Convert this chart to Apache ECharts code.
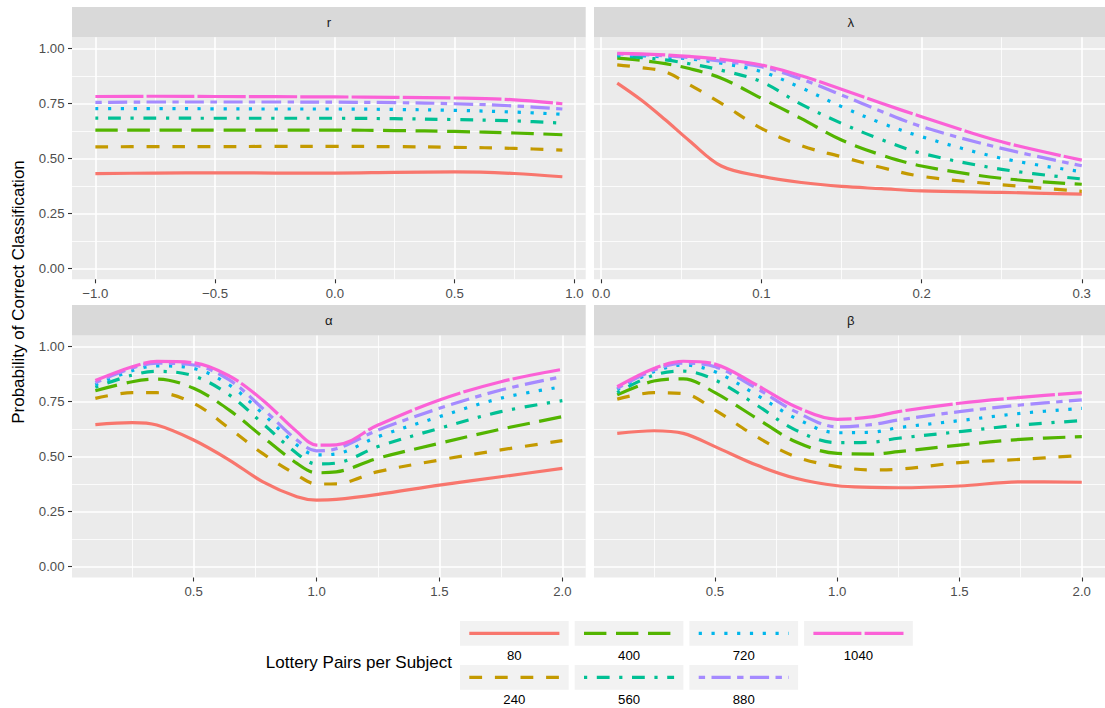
<!DOCTYPE html>
<html><head><meta charset="utf-8">
<script src="https://cdn.jsdelivr.net/npm/echarts@6/dist/echarts.min.js"></script>
<style>html,body{margin:0;padding:0;background:#fff}#c{width:1105px;height:708px}</style>
</head><body><div id="c"></div>
<script>
// ---------- data ----------
const groups = ['80', '240', '400', '560', '720', '880', '1040'];
const colors = ['#F8766D', '#C49A00', '#53B400', '#00C094', '#00B6EB', '#A58AFF', '#FB61D7'];
const dashes = ['solid', [12.8, 12.8], [22.4, 9.6], [3.2, 9.6, 12.8, 9.6], [3.2, 9.6], [6.4, 6.4, 19.2, 6.4], [48, 3.2]];
const panelTitles = ['r', 'λ', 'α', 'β'];

const yTicks = [0, 0.25, 0.5, 0.75, 1];
const yMinor = [0.125, 0.375, 0.625, 0.875];
const xTicksR = [-1, -0.5, 0, 0.5, 1];
const xMinorR = [-0.75, -0.25, 0.25, 0.75];
const xTicksL = [0, 0.1, 0.2, 0.3];
const xMinorL = [0.05, 0.15, 0.25];
const xTicksA = [0.5, 1, 1.5, 2];
const xMinorA = [0.25, 0.75, 1.25, 1.75];

const xR = [-1, -0.75, -0.5, -0.25, 0, 0.25, 0.5, 0.75, 0.95];
const yR = [
  [0.430, 0.433, 0.434, 0.433, 0.433, 0.436, 0.438, 0.431, 0.416],
  [0.552, 0.553, 0.553, 0.554, 0.554, 0.553, 0.550, 0.545, 0.537],
  [0.628, 0.628, 0.628, 0.628, 0.628, 0.626, 0.622, 0.615, 0.607],
  [0.683, 0.683, 0.682, 0.682, 0.682, 0.680, 0.676, 0.670, 0.660],
  [0.726, 0.726, 0.725, 0.724, 0.724, 0.722, 0.718, 0.710, 0.700],
  [0.754, 0.756, 0.756, 0.756, 0.755, 0.753, 0.748, 0.738, 0.724],
  [0.781, 0.782, 0.781, 0.780, 0.779, 0.777, 0.774, 0.766, 0.748]
];

const xL = [0.01, 0.025, 0.04, 0.055, 0.075, 0.1, 0.125, 0.15, 0.175, 0.2, 0.25, 0.3];
const yL = [
  [0.842, 0.765, 0.675, 0.580, 0.465, 0.418, 0.390, 0.372, 0.362, 0.352, 0.345, 0.337],
  [0.925, 0.912, 0.893, 0.835, 0.750, 0.636, 0.557, 0.507, 0.458, 0.418, 0.380, 0.350],
  [0.955, 0.945, 0.930, 0.908, 0.864, 0.773, 0.680, 0.583, 0.515, 0.465, 0.409, 0.382],
  [0.965, 0.958, 0.947, 0.930, 0.900, 0.848, 0.745, 0.659, 0.585, 0.523, 0.450, 0.406],
  [0.970, 0.966, 0.960, 0.952, 0.932, 0.894, 0.820, 0.735, 0.660, 0.598, 0.500, 0.439],
  [0.974, 0.971, 0.966, 0.958, 0.942, 0.916, 0.860, 0.788, 0.713, 0.644, 0.545, 0.466],
  [0.977, 0.975, 0.970, 0.963, 0.950, 0.924, 0.875, 0.814, 0.750, 0.689, 0.575, 0.492]
];

const xA = [0.1, 0.25, 0.35, 0.5, 0.645, 0.78, 0.92, 1.0, 1.08, 1.25, 1.5, 1.75, 2.0];
const yA = [
  [0.645, 0.654, 0.643, 0.575, 0.484, 0.386, 0.317, 0.302, 0.305, 0.328, 0.370, 0.408, 0.446],
  [0.764, 0.790, 0.790, 0.742, 0.628, 0.514, 0.416, 0.375, 0.376, 0.431, 0.484, 0.530, 0.572],
  [0.799, 0.840, 0.852, 0.810, 0.711, 0.590, 0.469, 0.426, 0.430, 0.492, 0.560, 0.624, 0.681],
  [0.815, 0.870, 0.887, 0.866, 0.780, 0.651, 0.514, 0.466, 0.470, 0.545, 0.628, 0.704, 0.754],
  [0.825, 0.890, 0.912, 0.900, 0.825, 0.696, 0.552, 0.507, 0.512, 0.590, 0.681, 0.765, 0.817],
  [0.835, 0.902, 0.924, 0.916, 0.848, 0.719, 0.575, 0.526, 0.535, 0.620, 0.719, 0.802, 0.863],
  [0.845, 0.908, 0.932, 0.926, 0.866, 0.757, 0.613, 0.552, 0.553, 0.643, 0.757, 0.840, 0.896]
];

const xB = [0.1, 0.25, 0.37, 0.5, 0.67, 0.83, 1.0, 1.14, 1.25, 1.5, 1.75, 2.0];
const yB = [
  [0.605, 0.617, 0.605, 0.545, 0.461, 0.401, 0.367, 0.360, 0.358, 0.366, 0.385, 0.383],
  [0.761, 0.790, 0.786, 0.711, 0.590, 0.499, 0.454, 0.439, 0.442, 0.472, 0.487, 0.505],
  [0.780, 0.843, 0.853, 0.790, 0.674, 0.567, 0.514, 0.511, 0.522, 0.552, 0.578, 0.590],
  [0.790, 0.870, 0.888, 0.848, 0.734, 0.620, 0.563, 0.565, 0.583, 0.613, 0.643, 0.663],
  [0.805, 0.885, 0.916, 0.885, 0.780, 0.674, 0.608, 0.610, 0.631, 0.663, 0.696, 0.719],
  [0.810, 0.893, 0.924, 0.908, 0.810, 0.704, 0.635, 0.645, 0.666, 0.704, 0.734, 0.757],
  [0.817, 0.900, 0.933, 0.920, 0.825, 0.726, 0.669, 0.680, 0.704, 0.742, 0.769, 0.790]
];

// ---------- layout ----------
const FONT = 'Liberation Sans, Arial, sans-serif';
const PW = 513.7, PH = 242;
const panels = [
  { left: 72,  top: 37.3,  stripTop: 7,   xs: xR, ys: yR, min: -1.0975, max: 1.0475, major: xTicksR, minor: xMinorR, yLab: true,
    fmt: v => v.toFixed(1).replace('-', '\u2212') },
  { left: 594, top: 37.3,  stripTop: 7,   xs: xL, ys: yL, min: -0.0045, max: 0.3145, major: xTicksL, minor: xMinorL, yLab: false,
    fmt: v => v.toFixed(1) },
  { left: 72,  top: 335.5, stripTop: 305, xs: xA, ys: yA, min: 0.005, max: 2.095, major: xTicksA, minor: xMinorA, yLab: true,
    fmt: v => v.toFixed(1) },
  { left: 594, top: 335.5, stripTop: 305, xs: xB, ys: yB, min: 0.005, max: 2.095, major: xTicksA, minor: xMinorA, yLab: false,
    fmt: v => v.toFixed(1) }
];

const grids = [], xAxes = [], yAxes = [], series = [], graphics = [];

panels.forEach((p, gi) => {
  grids.push({ left: p.left, top: p.top, width: PW, height: PH, show: true,
    backgroundColor: '#EBEBEB', borderWidth: 0, containLabel: false });
  // major x
  xAxes.push({ type: 'value', gridIndex: gi, min: p.min, max: p.max, position: 'bottom',
    axisLine: { show: false, onZero: false },
    axisTick: { show: true, length: 4, lineStyle: { color: '#333333', width: 1.1 }, customValues: p.major },
    axisLabel: { show: true, customValues: p.major, formatter: p.fmt, color: '#4D4D4D', fontSize: 13.2,
      fontFamily: FONT, margin: 7.5 },
    splitLine: { show: true, lineStyle: { color: '#FFFFFF', width: 1.6 } } });
  // minor x
  xAxes.push({ type: 'value', gridIndex: gi, min: p.min, max: p.max, position: 'top',
    axisLine: { show: false, onZero: false },
    axisTick: { show: false, customValues: p.minor },
    axisLabel: { show: false, customValues: p.minor },
    splitLine: { show: true, lineStyle: { color: '#FFFFFF', width: 0.8 } } });
  // major y
  yAxes.push({ type: 'value', gridIndex: gi, min: -0.05, max: 1.05, position: 'left',
    axisLine: { show: false, onZero: false },
    axisTick: { show: p.yLab, length: 4, lineStyle: { color: '#333333', width: 1.1 }, customValues: yTicks },
    axisLabel: { show: p.yLab, customValues: yTicks, formatter: v => v.toFixed(2), color: '#4D4D4D',
      fontSize: 13.2, fontFamily: FONT, margin: 7.5 },
    splitLine: { show: true, lineStyle: { color: '#FFFFFF', width: 1.6 } } });
  // minor y
  yAxes.push({ type: 'value', gridIndex: gi, min: -0.05, max: 1.05, position: 'right',
    axisLine: { show: false, onZero: false },
    axisTick: { show: false, customValues: yMinor },
    axisLabel: { show: false, customValues: yMinor },
    splitLine: { show: true, lineStyle: { color: '#FFFFFF', width: 0.8 } } });

  groups.forEach((g, si) => {
    series.push({ type: 'line', name: g, xAxisIndex: gi * 2, yAxisIndex: gi * 2,
      data: p.xs.map((x, k) => [x, p.ys[si][k]]),
      symbol: 'none', smooth: 0.35, silent: true, z: 3 + si,
      lineStyle: { color: colors[si], width: 3.2, type: dashes[si], cap: 'butt', join: 'round' } });
  });

  // strip
  graphics.push({ type: 'rect', silent: true, shape: { x: p.left, y: p.stripTop, width: PW, height: p.top - p.stripTop },
    style: { fill: '#D9D9D9' } });
  graphics.push({ type: 'text', silent: true, x: p.left + PW / 2, y: p.stripTop + (p.top - p.stripTop) / 2,
    style: { text: panelTitles[gi], fill: '#1A1A1A', font: '13.2px ' + FONT, textAlign: 'center', textVerticalAlign: 'middle' } });
});

// y axis title
graphics.push({ type: 'text', silent: true, x: 18, y: 292, rotation: Math.PI / 2,
  style: { text: 'Probability of Correct Classification', fill: '#000000', font: '17px ' + FONT,
    textAlign: 'center', textVerticalAlign: 'middle' } });

// legend
graphics.push({ type: 'text', silent: true, x: 452, y: 662,
  style: { text: 'Lottery Pairs per Subject', fill: '#000000', font: '17px ' + FONT,
    textAlign: 'right', textVerticalAlign: 'middle' } });
groups.forEach((g, i) => {
  const col = Math.floor(i / 2), row = i % 2;
  const bx = 460 + col * 114.7, by = row === 0 ? 621 : 665;
  graphics.push({ type: 'rect', silent: true, shape: { x: bx, y: by, width: 108.7, height: 24.7 },
    style: { fill: '#F2F2F2' } });
  graphics.push({ type: 'line', silent: true, shape: { x1: bx + 9.3, y1: by + 12.3, x2: bx + 99.4, y2: by + 12.3 },
    style: { stroke: colors[i], lineWidth: 3.2, lineDash: dashes[i] === 'solid' ? null : dashes[i], lineCap: 'butt' } });
  graphics.push({ type: 'text', silent: true, x: bx + 54.35, y: by + 34.5,
    style: { text: g, fill: '#000000', font: '13.2px ' + FONT, textAlign: 'center', textVerticalAlign: 'middle' } });
});

const chart = echarts.init(document.getElementById('c'), null, { renderer: 'svg', width: 1105, height: 708 });
chart.setOption({
  animation: false,
  backgroundColor: '#FFFFFF',
  grid: grids,
  xAxis: xAxes,
  yAxis: yAxes,
  series: series,
  graphic: graphics,
  tooltip: { show: false }
});
</script></body></html>
